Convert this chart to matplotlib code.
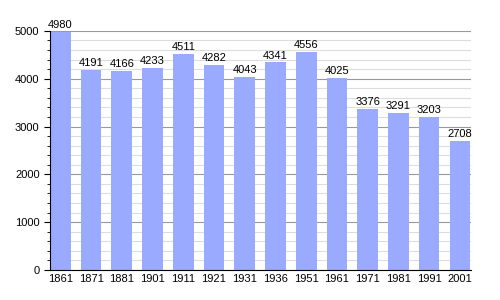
import matplotlib
matplotlib.use("Agg")
import matplotlib.pyplot as plt
from matplotlib.ticker import MultipleLocator

years = ["1861", "1871", "1881", "1901", "1911", "1921", "1931",
         "1936", "1951", "1961", "1971", "1981", "1991", "2001"]
population = [4980, 4191, 4166, 4233, 4511, 4282, 4043,
              4341, 4556, 4025, 3376, 3291, 3203, 2708]

plt.rcParams['font.family'] = ['Liberation Sans', 'DejaVu Sans']

fig = plt.figure(figsize=(5, 3), dpi=100)
ax = fig.add_axes([0.1, 0.1, 0.842, 0.797])

x = range(len(years))
ax.bar(x, population, width=0.67, color="#99aaff", zorder=2)
for i, v in zip(x, population):
    ax.text(i, v + 40, str(v), ha="center", va="bottom", fontsize=8, zorder=3)

ax.set_xlim(-0.335, len(years) - 1 + 0.36)
ax.set_ylim(0, 5000)
ax.yaxis.set_major_locator(MultipleLocator(1000))
ax.yaxis.set_minor_locator(MultipleLocator(200))
ax.grid(axis="y", which="major", color="#999999", linewidth=0.8, zorder=0)
ax.grid(axis="y", which="minor", color="#dddddd", linewidth=0.8, zorder=0)
ax.set_xticks(list(x))
ax.set_xticklabels(years)
ax.tick_params(axis="x", length=0, labelsize=8, pad=3)
ax.tick_params(axis="y", which="major", length=4, labelsize=8)
ax.tick_params(axis="y", which="minor", length=2)
ax.spines["top"].set_visible(False)
ax.spines["right"].set_visible(False)

fig.savefig("out.png")
